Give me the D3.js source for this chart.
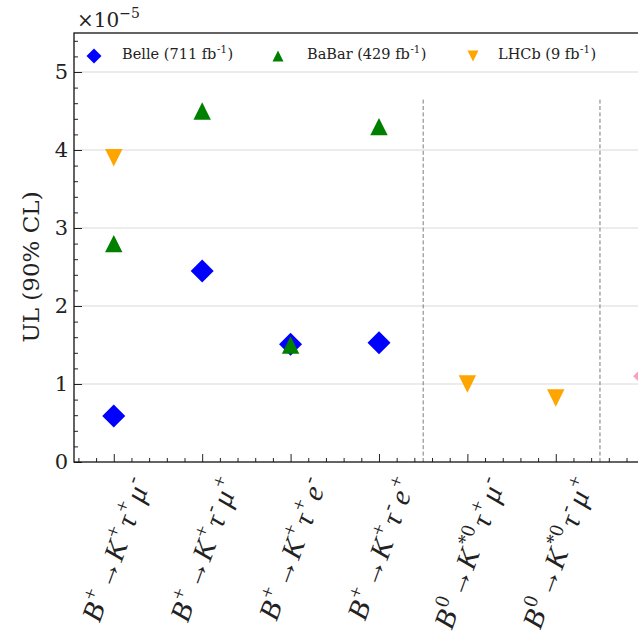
<!DOCTYPE html>
<html><head><meta charset="utf-8">
<script src="https://cdn.jsdelivr.net/npm/d3@7"></script>
<style>html,body{margin:0;padding:0;background:#fff;overflow:hidden}</style>
</head><body>
<svg id="chart" width="638" height="637"></svg>
<script>
// Decay channels (x categories), written with ^{...} for superscripts
const categories = [
  "B^{+}→K^{+}τ^{+}μ^{-}",
  "B^{+}→K^{+}τ^{-}μ^{+}",
  "B^{+}→K^{+}τ^{+}e^{-}",
  "B^{+}→K^{+}τ^{-}e^{+}",
  "B^{0}→K^{*0}τ^{+}μ^{-}",
  "B^{0}→K^{*0}τ^{-}μ^{+}"
];
// Upper limits in units of 1e-5
const belleX = [0, 1, 2, 3];
const belleUL = [0.59, 2.45, 1.51, 1.53];
const babarX = [0, 1, 2, 3];
const babarUL = [2.8, 4.5, 1.5, 4.3];
const lhcbX = [0, 4, 5];
const lhcbUL = [3.9, 1.0, 0.82];
const pinkX = [6];
const pinkUL = [1.1];
const legendLabels = ["Belle (711 fb^{-1})", "BaBar (429 fb^{-1})", "LHCb (9 fb^{-1})"];
const yTicks = [0, 1, 2, 3, 4, 5];
const separators = [3.5, 5.5];

const svg = d3.select("#chart");
const serif = "'DejaVu Serif', serif";
const mathFont = "'Liberation Serif', 'Times New Roman', serif";
const L = 74, T = 33, B = 462;
const x = d3.scaleLinear().domain([-0.45, 6.55]).range([L, L + 7 * 88.4]);
const y = d3.scaleLinear().domain([0, 5.5]).range([B, T]);
const R = x(6.55);

// grid
svg.append("g").selectAll("line").data(yTicks.filter(d => d > 0)).join("line")
  .attr("x1", L).attr("x2", R).attr("y1", d => y(d)).attr("y2", d => y(d))
  .attr("stroke", "#e6e6e6").attr("stroke-width", 1.4);

// channel separators
svg.append("g").selectAll("line").data(separators).join("line")
  .attr("x1", d => x(d)).attr("x2", d => x(d))
  .attr("y1", y(0)).attr("y2", y(0.85 * 5.5))
  .attr("stroke", "#7a7a7a").attr("stroke-width", 1).attr("stroke-dasharray", "4,2.4");

// axes with inward ticks
function styleAxis(g) {
  g.select(".domain").remove();
  g.selectAll(".tick line").attr("stroke", "#222").attr("stroke-width", 1);
}
const yMinor = d3.range(1, 28).map(i => i * 0.2).filter(v => Math.abs(v - Math.round(v)) > 1e-6);
svg.append("g").attr("transform", `translate(${L},0)`)
  .call(d3.axisLeft(y).tickValues(yMinor).tickSize(-4).tickFormat(""))
  .call(styleAxis);
const yAx = svg.append("g").attr("transform", `translate(${L},0)`)
  .call(d3.axisLeft(y).tickValues(yTicks).tickSize(-8).tickPadding(6).tickFormat(d3.format("d")))
  .call(styleAxis);
yAx.selectAll("text").attr("font-family", serif).attr("font-size", 21).attr("fill", "#222")
  .attr("x", -6);

const xMinor = d3.range(-2, 33).map(i => i * 0.2).filter(v => Math.abs(v - Math.round(v)) > 1e-6);
svg.append("g").attr("transform", `translate(0,${B})`)
  .call(d3.axisBottom(x).tickValues(xMinor).tickSize(-4).tickFormat(""))
  .call(styleAxis);
svg.append("g").attr("transform", `translate(0,${B})`)
  .call(d3.axisBottom(x).tickValues(d3.range(0, 7)).tickSize(-8).tickFormat(""))
  .call(styleAxis);

// spines
svg.append("rect").attr("x", L).attr("y", T).attr("width", R - L).attr("height", B - T)
  .attr("fill", "none").attr("stroke", "#111").attr("stroke-width", 1.3);

// parse ^{...} markup into segments
function parse(str, math) {
  const out = [];
  let i = 0;
  while (i < str.length) {
    if (str[i] === "^" && str[i + 1] === "{") {
      const j = str.indexOf("}", i);
      out.push({ t: str.slice(i + 2, j), sup: true, it: false });
      i = j + 1;
    } else {
      const c = str[i];
      out.push({ t: c, sup: false, it: math && /[A-Za-z\u03b1-\u03c9]/.test(c), rel: math && c === "→" });
      i++;
    }
  }
  return out;
}
function richText(sel, str, size, math) {
  const segs = parse(str, math);
  const shift = size * 0.42;
  let raised = false;
  let prevRel = false;
  segs.forEach(s => {
    const ts = sel.append("tspan").text(s.t)
      .attr("font-style", s.it ? "italic" : "normal")
      .attr("font-size", s.sup ? size * 0.7 : size);
    let dx = 0;
    if (s.sup && !raised) { ts.attr("dy", -shift); dx += size * (math ? 0.05 : 0.04); raised = true; }
    else if (!s.sup && raised) { ts.attr("dy", shift); dx += size * (math ? 0.12 : 0.04); raised = false; }
    if (s.rel) dx += size * 0.03;
    if (prevRel) dx += size * 0.03;
    if (dx) ts.attr("dx", dx);
    prevRel = !!s.rel;
  });
}

// x tick labels: rotated, centred under each tick
categories.forEach((c, i) => {
  const outer = svg.append("g");
  const inner = outer.append("g").attr("transform", "rotate(-70)");
  const t = inner.append("text").attr("font-family", mathFont).attr("fill", "#222");
  richText(t, c, 29, true);
  const bb = outer.node().getBBox();
  outer.attr("transform", `translate(${x(i) - (bb.x + bb.width / 2)},${472 - bb.y})`);
});

// y label
svg.append("text").attr("transform", "translate(39,267) rotate(-90)")
  .attr("text-anchor", "middle").attr("font-family", serif).attr("font-size", 23)
  .attr("fill", "#222").text("UL (90% CL)");

// offset text
const off = svg.append("text").attr("x", 77).attr("y", 27).attr("font-family", serif).attr("fill", "#222");
off.append("tspan").attr("font-size", 20).text("×10");
off.append("tspan").attr("font-size", 14).attr("dy", -9).text("−5");

// marker shapes
const diamond = r => `M0,${-r}L${r},0L0,${r}L${-r},0Z`;
const triUp = r => `M0,${-r}L${r},${r}L${-r},${r}Z`;
const triDown = r => `M0,${r}L${r},${-r}L${-r},${-r}Z`;

const plot = svg.append("g");
function drawSeries(xs, vs, path, color) {
  plot.append("g").selectAll("path").data(vs).join("path")
    .attr("transform", (v, i) => `translate(${x(xs[i])},${y(v)})`)
    .attr("d", path).attr("fill", color);
}
drawSeries(belleX, belleUL, diamond(11.5), "#0000ff");
drawSeries(babarX, babarUL, triUp(8.7), "#008000");
drawSeries(lhcbX, lhcbUL, triDown(8.7), "#ffa500");
drawSeries(pinkX, pinkUL, diamond(11), "#f5a3b8");

// legend
const legendItems = [
  { label: legendLabels[0], mx: 94, tx: 122, path: diamond(7.5), color: "#0000ff" },
  { label: legendLabels[1], mx: 278, tx: 307, path: triUp(5.5), color: "#008000" },
  { label: legendLabels[2], mx: 473, tx: 498, path: triDown(5.5), color: "#ffa500" }
];
legendItems.forEach(it => {
  svg.append("path").attr("transform", `translate(${it.mx},56)`).attr("d", it.path).attr("fill", it.color);
  const t = svg.append("text").attr("x", it.tx).attr("y", 59).attr("font-family", serif).attr("fill", "#222");
  richText(t, it.label, 14.5, false);
});
</script>
</body></html>
